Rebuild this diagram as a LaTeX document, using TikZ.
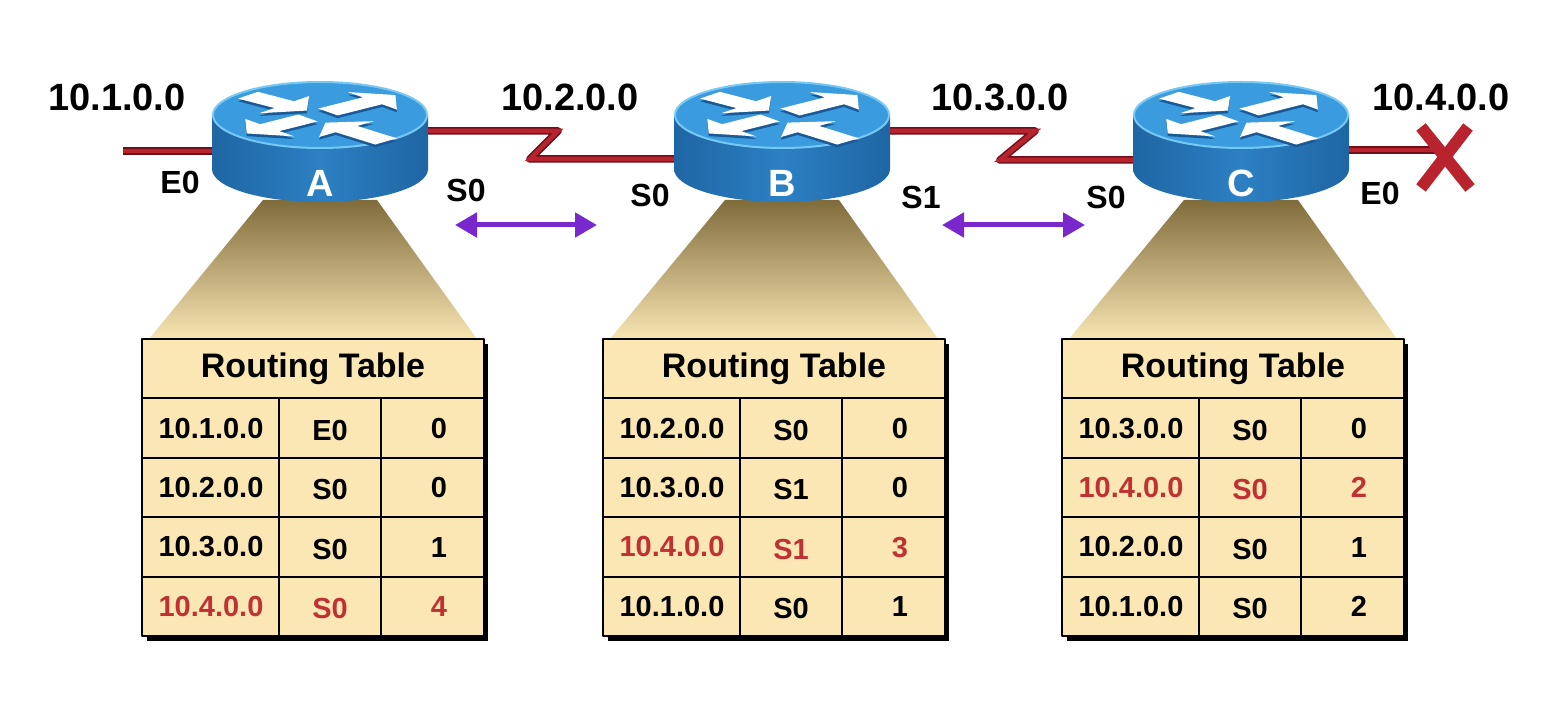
\documentclass[tikz,border=0pt]{standalone}
\usepackage{fontspec}
\setmainfont{Liberation Sans}
\usetikzlibrary{arrows.meta,positioning}
\definecolor{linkred}{RGB}{185,35,45}
\definecolor{linkdark}{RGB}{110,15,25}
\definecolor{hopred}{RGB}{192,50,50}
\definecolor{rtop}{RGB}{58,156,222}
\definecolor{rrim}{RGB}{120,200,245}
\definecolor{rside}{RGB}{44,128,195}
\definecolor{rdark}{RGB}{25,90,150}
\definecolor{conetop}{RGB}{128,108,58}
\definecolor{conebot}{RGB}{247,229,178}
\definecolor{tabfill}{RGB}{250,231,180}
\definecolor{updviolet}{RGB}{120,40,205}
\tikzset{
  netlabel/.style={font=\fontsize{38}{40}\selectfont\bfseries,inner sep=0pt},
  portlabel/.style={font=\fontsize{32}{34}\selectfont\bfseries,inner sep=0pt},
  celltext/.style={font=\fontsize{29}{31}\selectfont\bfseries,inner sep=0pt},
  headtext/.style={font=\fontsize{34}{36}\selectfont\bfseries,inner sep=0pt},
  routerbox/.style={minimum width=216pt,minimum height=120pt,inner sep=0pt},
  link/.style={linkred,line width=4.5pt,line join=miter,line cap=butt,
    preaction={draw=linkdark,line width=7.5pt}},
  update/.style={<->,updviolet,line width=5pt},
  tabline/.style={black,line width=2pt},
}
% arrow on the router top: x, y, angle, length
\newcommand{\rarrow}[4]{%
  \foreach \c/\dy in {rdark/-0.09,white/0}{
    \fill[\c,shift={(#1,#2+\dy)},rotate=#3] (0,-0.15) -- ({#4-0.3},-0.15) -- ({#4-0.3},-0.38)
      -- (#4,0) -- ({#4-0.3},0.38) -- ({#4-0.3},0.15) -- (0,0.15) -- cycle;}}
% router: name, x, letter
\newcommand{\router}[3]{%
  \begin{scope}[shift={(#2,-115)}]
    \shade[left color=rdark!70!rside,right color=rdark!70!rside,middle color=rside] (-108,0) -- (-108,-54)
      arc[start angle=180,end angle=360,x radius=108,y radius=33] -- (108,0) -- cycle;
    \fill[rtop,draw=rrim,line width=2pt] (0,0) ellipse[x radius=107,y radius=33];
    \begin{scope}[xscale=100,yscale=30]
      \rarrow{-0.72}{0.66}{-41}{0.78}
      \rarrow{0.08}{0.1}{40}{0.88}
      \rarrow{-0.12}{-0.1}{220}{0.8}
      \rarrow{0.66}{-0.88}{134}{0.87}
    \end{scope}
    \node[font=\fontsize{38}{40}\selectfont\bfseries,text=white,inner sep=0pt] (#1-name) at (0,-68) {#3};
  \end{scope}
  \node[routerbox] (#1) at (#2,-142) {};}
% routing table: name, left x, rows
\newcommand{\rtable}[3]{%
  \begin{scope}[shift={(#2,-339)}]
    \fill[black] (5,-5) rectangle (346,-302);
    \draw[tabline,fill=tabfill] (0,0) rectangle (342,-297);
    \node[headtext] (#1-head) at (171,-30) {Routing Table};
    \foreach \net/\port/\hop/\tc [count=\r] in {#3}{
      \draw[tabline] (0,-59.4*\r) -- (342,-59.4*\r);
      \draw[tabline] (137,-59.4*\r) -- (137,-59.4*\r-59.4) (239,-59.4*\r) -- (239,-59.4*\r-59.4);
      \node[celltext,text=\tc] (#1-net\r) at (69,-59.4*\r-29.7) {\net};
      \node[celltext,text=\tc] (#1-port\r) at (188,-59.4*\r-32) {\port};
      \node[celltext,text=\tc] (#1-hop\r) at (297,-59.4*\r-30) {\hop};
    }
  \end{scope}}
\begin{document}
\begin{tikzpicture}[x=1pt,y=1pt,>={Triangle[width=24pt,length=22pt]},line join=round]
  \useasboundingbox[fill=white] (0,0) rectangle (1548,-708);
  % cones
  \foreach \rx/\tx in {320/142,782/603,1241/1062}
    \shade[top color=conetop,bottom color=conebot] (\rx-57,-200) -- (\rx+57,-200) -- (\tx+335,-339) -- (\tx+7,-339) -- cycle;
  \node[routerbox] (A) at (320,-142) {};
  \node[routerbox] (B) at (782,-142) {};
  \node[routerbox] (C) at (1241,-142) {};
  \coordinate (lanA) at (123,-151);
  \coordinate (lanC) at (1437,-150);
  \draw[link] (lanA) -- ([xshift=6pt]A.west |- lanA);
  \draw[link] ([xshift=-6pt]A.east |- 0,-131) -- (558,-131) -- (530,-159) -- ([xshift=6pt]B.west |- 0,-159);
  \draw[link] ([xshift=-6pt]B.east |- 0,-131) -- (1035,-131) -- (1000,-160) -- ([xshift=6pt]C.west |- 0,-160);
  \draw[link] ([xshift=-6pt]C.east |- lanC) -- (lanC);
  \router{A}{320}{A}
  \router{B}{782}{B}
  \router{C}{1241}{C}
  \draw[linkred,line width=12pt,line cap=butt] (1421,-127) -- (1470,-188) (1468,-127) -- (1421,-188);
  \node[netlabel] (netA) at (117,-97) {10.1.0.0};
  \node[netlabel] (netAB) at (570,-97) {10.2.0.0};
  \node[netlabel] (netBC) at (1000,-97) {10.3.0.0};
  \node[netlabel] (netC) at (1441,-97) {10.4.0.0};
  \node[portlabel] (A-e0) at (180,-182) {E0};
  \node[portlabel] (A-s0) at (466,-190) {S0};
  \node[portlabel] (B-s0) at (650,-195) {S0};
  \node[portlabel] (B-s1) at (921,-197) {S1};
  \node[portlabel] (C-s0) at (1106,-197) {S0};
  \node[portlabel] (C-e0) at (1380,-193) {E0};
  \coordinate (updAl) at (455,-225); \coordinate (updAr) at (597,-225);
  \coordinate (updBl) at (942,-225); \coordinate (updBr) at (1085,-225);
  \draw[update] (updAl) -- (updAr);
  \draw[update] (updBl) -- (updBr);
  \rtable{tA}{142}{10.1.0.0/E0/0/black,10.2.0.0/S0/0/black,10.3.0.0/S0/1/black,10.4.0.0/S0/4/hopred}
  \rtable{tB}{603}{10.2.0.0/S0/0/black,10.3.0.0/S1/0/black,10.4.0.0/S1/3/hopred,10.1.0.0/S0/1/black}
  \rtable{tC}{1062}{10.3.0.0/S0/0/black,10.4.0.0/S0/2/hopred,10.2.0.0/S0/1/black,10.1.0.0/S0/2/black}
\end{tikzpicture}
\end{document}
